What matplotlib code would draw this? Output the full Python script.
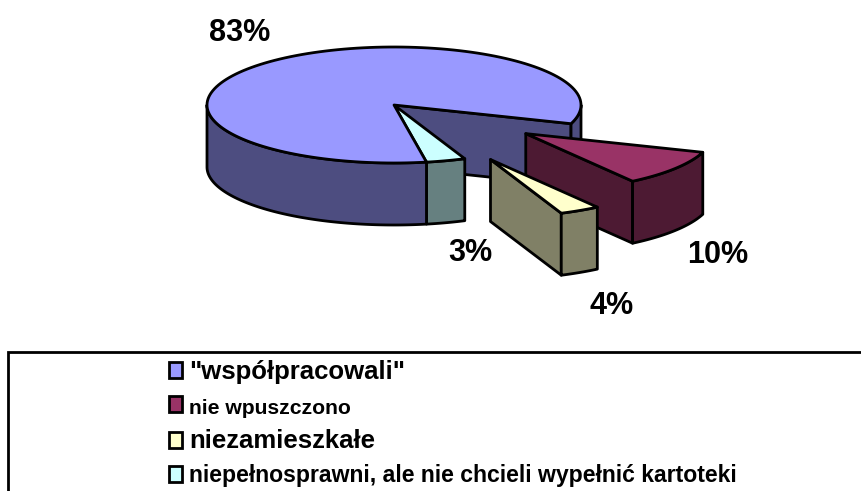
import numpy as np
from matplotlib import pyplot as plt
from matplotlib.patches import Polygon, Rectangle

# dane
kategorie = ['"współpracowali"', "nie wpuszczono", "niezamieszkałe",
             "niepełnosprawni, ale nie chcieli wypełnić kartoteki"]
udzialy = [83.0, 10.1, 3.5, 3.4]
etykiety = ["83%", "10%", "4%", "3%"]
kolory = ["#9999FF", "#993366", "#FFFFCC", "#CCFFFF"]
boki = ["#4D4D80", "#4D1A33", "#808066", "#668080"]

# geometria, piksele
cx, cy = 394., 105.
rx, ry = 187., 58.
h = 62.
start = -80.
wysun_x = [0., 0.882, 1.08, 0.]
wysun_y = [0., 0.82, 1.07, 0.]
lw = 2.

fig = plt.figure(figsize=(8.61, 4.91), dpi=100)
ax = fig.add_axes([0, 0, 1, 1])
ax.set_xlim(0, 861)
ax.set_ylim(491, 0)
ax.axis("off")


def pkt(a, x0, y0):
    a = np.radians(a)
    return x0 + rx*np.cos(a), y0 - ry*np.sin(a)


def luk(a1, a2, x0, y0):
    t = np.linspace(a1, a2, 150)
    x, y = pkt(t, x0, y0)
    return np.column_stack([x, y])


def wielokat(xy, kolor):
    ax.add_patch(Polygon(xy, closed=True, facecolor=kolor, edgecolor="k",
                         lw=lw, joinstyle="round"))


# katy, idziemy zgodnie z zegarem
katy = start - np.cumsum([0] + udzialy)*3.6


def srodek(i):
    mid = (katy[i] + katy[i+1])/2
    x0, y0 = pkt(mid, cx, cy)
    return cx + (x0 - cx)*wysun_x[i], cy + (y0 - cy)*wysun_y[i]


def sciana(i):
    # sciana przekroju od strony widza
    x0, y0 = srodek(i)
    x1, y1 = pkt(katy[i+1], x0, y0)
    wielokat([(x0, y0), (x1, y1), (x1, y1 + h), (x0, y0 + h)], boki[i])


def bryla(i):
    x0, y0 = srodek(i)
    a1, a2 = katy[i], katy[i+1]
    # boczna sciana, tylko dolna polowa elipsy
    for g in [0., -360.]:
        b1, b2 = min(a1, g), max(a2, g - 180.)
        if b1 > b2:
            l = luk(b1, b2, x0, y0)
            wielokat(np.vstack([l, (l + [0, h])[::-1]]), boki[i])
    l = luk(a1, a2, x0, y0)
    wielokat(np.vstack([[(x0, y0)], l]), kolory[i])


sciana(0)
bryla(3)
bryla(0)
sciana(1)
bryla(1)
sciana(2)
bryla(2)

# etykiety
poz_x = [240, 718, 612, 470]
poz_y = [33, 255, 306, 253]
for t, x, y in zip(etykiety, poz_x, poz_y):
    ax.text(x, y, t, ha="center", va="center", fontsize=22, fontweight="bold",
            family="Liberation Sans", color="k")

# legenda
ax.plot([8, 8, 861], [491, 352, 352], color="k", lw=2., solid_joinstyle="miter")
wiersze = [370, 404, 440, 474]
linie = [379, 414, 448, 482]
rozmiary = [18.5, 15.2, 18.5, 16.6]
for nazwa, kol, y, b, r in zip(kategorie, kolory, wiersze, linie, rozmiary):
    ax.add_patch(Rectangle((169, y - 8), 13, 16, facecolor=kol, edgecolor="k", lw=2.))
    ax.text(189, b, nazwa, ha="left", va="baseline", fontsize=r, fontweight="bold",
            family="Liberation Sans", color="k")

fig.savefig("out.png", dpi=100)
